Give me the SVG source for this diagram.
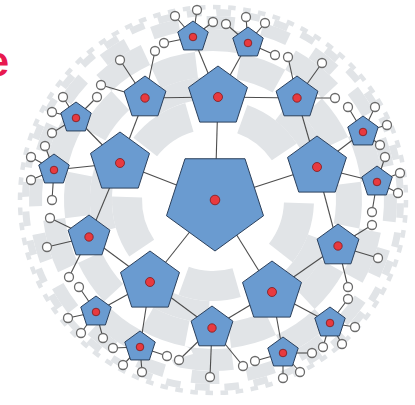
<svg xmlns="http://www.w3.org/2000/svg" xmlns:xlink="http://www.w3.org/1999/xlink" width="415" height="405" viewBox="0 0 415 405">
<style>
.pent{fill:#6a9bd0;stroke:#2b405c;stroke-width:1}
.dot{fill:#e83a3f;stroke:#7d1a1d;stroke-width:0.8}
.leaf circle{fill:#ffffff;stroke:#6b6b6b;stroke-width:1.3}
#connectors line{stroke:#4d4d4d;stroke-width:1.1}
.ring{fill:none;stroke:#e1e4e7}
.label{font-family:"Liberation Sans",Arial,sans-serif;font-weight:bold;font-size:42px;fill:#e8194f}
</style>
<defs>
<polygon id="p51" points="0,51 48.5,15.76 29.98,-41.26 -29.98,-41.26 -48.5,15.76"/>
<polygon id="p31" points="0,-31 29.48,-9.58 18.22,25.08 -18.22,25.08 -29.48,-9.58"/>
<polygon id="p22" points="0,-22 20.92,-6.8 12.93,17.8 -12.93,17.8 -20.92,-6.8"/>
<polygon id="p16" points="0,-16 15.22,-4.94 9.4,12.94 -9.4,12.94 -15.22,-4.94"/>
</defs>
<rect width="415" height="405" fill="#ffffff"/>
<text class="label" x="9" y="76" text-anchor="end">e</text>
<g id="background">
<circle cx="213" cy="200" r="196" fill="#ffffff"/>
<circle class="ring" cx="213" cy="200" r="86" stroke-width="30" pathLength="10" stroke-dasharray="1 1" transform="rotate(2 213 200)"/>
<circle class="ring" cx="213" cy="200" r="112" stroke-width="22" pathLength="10" stroke-dasharray="1 1" transform="rotate(20 213 200)"/>
<circle class="ring" cx="213" cy="200" r="136" stroke-width="26" pathLength="20" stroke-dasharray="1 1" transform="rotate(-7 213 200)"/>
<circle class="ring" cx="213" cy="200" r="160" stroke-width="22" pathLength="20" stroke-dasharray="1 1" transform="rotate(11 213 200)"/>
<circle class="ring" cx="213" cy="200" r="177.5" stroke-width="13" pathLength="40" stroke-dasharray="1 1" transform="rotate(-2 213 200)"/>
<circle class="ring" cx="213" cy="200" r="187.5" stroke-width="7" pathLength="80" stroke-dasharray="1 1" transform="rotate(1 213 200)"/>
<circle class="ring" cx="213" cy="200" r="193" stroke-width="4.5" pathLength="160" stroke-dasharray="1 1"/>
</g>
<g id="connectors">
<line x1="215" y1="200" x2="218" y2="97"/>
<line x1="215" y1="200" x2="120" y2="163"/>
<line x1="215" y1="200" x2="317" y2="167"/>
<line x1="215" y1="200" x2="150" y2="282"/>
<line x1="215" y1="200" x2="272" y2="292"/>
<line x1="218" y1="97" x2="145" y2="98"/>
<line x1="120" y1="163" x2="145" y2="98"/>
<line x1="218" y1="97" x2="297" y2="98"/>
<line x1="317" y1="167" x2="297" y2="98"/>
<line x1="120" y1="163" x2="89" y2="237"/>
<line x1="150" y1="282" x2="89" y2="237"/>
<line x1="150" y1="282" x2="212" y2="328"/>
<line x1="272" y1="292" x2="212" y2="328"/>
<line x1="317" y1="167" x2="338" y2="246"/>
<line x1="272" y1="292" x2="338" y2="246"/>
<line x1="218" y1="97" x2="193" y2="37"/>
<line x1="218" y1="97" x2="248" y2="43"/>
<line x1="120" y1="163" x2="76" y2="118"/>
<line x1="120" y1="163" x2="54" y2="170"/>
<line x1="317" y1="167" x2="363" y2="132"/>
<line x1="317" y1="167" x2="377" y2="182"/>
<line x1="150" y1="282" x2="96" y2="312"/>
<line x1="150" y1="282" x2="140" y2="347"/>
<line x1="272" y1="292" x2="283" y2="353"/>
<line x1="272" y1="292" x2="330" y2="323"/>
<line x1="193" y1="37" x2="175" y2="16"/>
<line x1="193" y1="37" x2="197" y2="10"/>
<line x1="193" y1="37" x2="164" y2="43"/>
<line x1="193" y1="37" x2="213" y2="22"/>
<line x1="248" y1="43" x2="226" y2="24"/>
<line x1="248" y1="43" x2="246" y2="17"/>
<line x1="248" y1="43" x2="265" y2="23"/>
<line x1="248" y1="43" x2="275" y2="55"/>
<line x1="145" y1="98" x2="155" y2="51"/>
<line x1="145" y1="98" x2="120" y2="60"/>
<line x1="145" y1="98" x2="101" y2="85"/>
<line x1="297" y1="98" x2="288" y2="57"/>
<line x1="297" y1="98" x2="322" y2="63"/>
<line x1="297" y1="98" x2="335" y2="98"/>
<line x1="363" y1="132" x2="348" y2="107"/>
<line x1="363" y1="132" x2="375" y2="107"/>
<line x1="363" y1="132" x2="387" y2="125"/>
<line x1="363" y1="132" x2="380" y2="145"/>
<line x1="377" y1="182" x2="385" y2="157"/>
<line x1="377" y1="182" x2="400" y2="173"/>
<line x1="377" y1="182" x2="398" y2="193"/>
<line x1="377" y1="182" x2="372" y2="212"/>
<line x1="338" y1="246" x2="372" y2="225"/>
<line x1="338" y1="246" x2="378" y2="258"/>
<line x1="338" y1="246" x2="348" y2="287"/>
<line x1="330" y1="323" x2="348" y2="299"/>
<line x1="330" y1="323" x2="355" y2="327"/>
<line x1="330" y1="323" x2="342" y2="344"/>
<line x1="330" y1="323" x2="323" y2="347"/>
<line x1="283" y1="353" x2="312" y2="353"/>
<line x1="283" y1="353" x2="300" y2="372"/>
<line x1="283" y1="353" x2="283" y2="378"/>
<line x1="283" y1="353" x2="255" y2="361"/>
<line x1="212" y1="328" x2="243" y2="366"/>
<line x1="212" y1="328" x2="210" y2="377"/>
<line x1="212" y1="328" x2="179" y2="360"/>
<line x1="140" y1="347" x2="167" y2="356"/>
<line x1="140" y1="347" x2="142" y2="372"/>
<line x1="140" y1="347" x2="123" y2="365"/>
<line x1="140" y1="347" x2="113" y2="348"/>
<line x1="96" y1="312" x2="103" y2="338"/>
<line x1="96" y1="312" x2="81" y2="333"/>
<line x1="96" y1="312" x2="68" y2="318"/>
<line x1="96" y1="312" x2="79" y2="287"/>
<line x1="89" y1="237" x2="69" y2="277"/>
<line x1="89" y1="237" x2="47" y2="247"/>
<line x1="89" y1="237" x2="50" y2="218"/>
<line x1="54" y1="170" x2="52" y2="200"/>
<line x1="54" y1="170" x2="31" y2="180"/>
<line x1="54" y1="170" x2="31" y2="157"/>
<line x1="54" y1="170" x2="45" y2="146"/>
<line x1="76" y1="118" x2="52" y2="133"/>
<line x1="76" y1="118" x2="52" y2="112"/>
<line x1="76" y1="118" x2="63" y2="97"/>
<line x1="76" y1="118" x2="97" y2="97"/>
</g>
<g id="n-center"><use xlink:href="#p51" class="pent" x="215" y="200"/><circle class="dot" cx="215" cy="200" r="4.8"/></g>
<g id="n-top"><use xlink:href="#p31" class="pent" x="218" y="97"/><circle class="dot" cx="218" cy="97" r="4.5"/></g>
<g id="n-left"><use xlink:href="#p31" class="pent" x="120" y="163"/><circle class="dot" cx="120" cy="163" r="4.5"/></g>
<g id="n-right"><use xlink:href="#p31" class="pent" x="317" y="167"/><circle class="dot" cx="317" cy="167" r="4.5"/></g>
<g id="n-lowleft"><use xlink:href="#p31" class="pent" x="150" y="282"/><circle class="dot" cx="150" cy="282" r="4.5"/></g>
<g id="n-lowright"><use xlink:href="#p31" class="pent" x="272" y="292"/><circle class="dot" cx="272" cy="292" r="4.5"/></g>
<g id="n-tl"><use xlink:href="#p22" class="pent" x="145" y="98"/><circle class="dot" cx="145" cy="98" r="4.2"/></g>
<g id="n-tr"><use xlink:href="#p22" class="pent" x="297" y="98"/><circle class="dot" cx="297" cy="98" r="4.2"/></g>
<g id="n-r2"><use xlink:href="#p22" class="pent" x="338" y="246"/><circle class="dot" cx="338" cy="246" r="4.2"/></g>
<g id="n-b2"><use xlink:href="#p22" class="pent" x="212" y="328"/><circle class="dot" cx="212" cy="328" r="4.2"/></g>
<g id="n-l2"><use xlink:href="#p22" class="pent" x="89" y="237"/><circle class="dot" cx="89" cy="237" r="4.2"/></g>
<g id="n-a"><use xlink:href="#p16" class="pent" x="193" y="37"/><circle class="dot" cx="193" cy="37" r="3.8"/></g>
<g id="n-b"><use xlink:href="#p16" class="pent" x="248" y="43"/><circle class="dot" cx="248" cy="43" r="3.8"/></g>
<g id="n-c"><use xlink:href="#p16" class="pent" x="363" y="132"/><circle class="dot" cx="363" cy="132" r="3.8"/></g>
<g id="n-d"><use xlink:href="#p16" class="pent" x="377" y="182"/><circle class="dot" cx="377" cy="182" r="3.8"/></g>
<g id="n-e"><use xlink:href="#p16" class="pent" x="330" y="323"/><circle class="dot" cx="330" cy="323" r="3.8"/></g>
<g id="n-f"><use xlink:href="#p16" class="pent" x="283" y="353"/><circle class="dot" cx="283" cy="353" r="3.8"/></g>
<g id="n-g"><use xlink:href="#p16" class="pent" x="140" y="347"/><circle class="dot" cx="140" cy="347" r="3.8"/></g>
<g id="n-h"><use xlink:href="#p16" class="pent" x="96" y="312"/><circle class="dot" cx="96" cy="312" r="3.8"/></g>
<g id="n-i"><use xlink:href="#p16" class="pent" x="54" y="170"/><circle class="dot" cx="54" cy="170" r="3.8"/></g>
<g id="n-j"><use xlink:href="#p16" class="pent" x="76" y="118"/><circle class="dot" cx="76" cy="118" r="3.8"/></g>
<g id="leaves" class="leaf">
<g id="leaf-1"><circle cx="175" cy="16" r="4.5"/></g>
<g id="leaf-2"><circle cx="197" cy="10" r="4.5"/></g>
<g id="leaf-3"><circle cx="164" cy="43" r="4.5"/></g>
<g id="leaf-4"><circle cx="213" cy="22" r="4.5"/></g>
<g id="leaf-5"><circle cx="226" cy="24" r="4.5"/></g>
<g id="leaf-6"><circle cx="246" cy="17" r="4.5"/></g>
<g id="leaf-7"><circle cx="265" cy="23" r="4.5"/></g>
<g id="leaf-8"><circle cx="275" cy="55" r="4.5"/></g>
<g id="leaf-9"><circle cx="155" cy="51" r="4.5"/></g>
<g id="leaf-10"><circle cx="120" cy="60" r="4.5"/></g>
<g id="leaf-11"><circle cx="101" cy="85" r="4.5"/></g>
<g id="leaf-12"><circle cx="288" cy="57" r="4.5"/></g>
<g id="leaf-13"><circle cx="322" cy="63" r="4.5"/></g>
<g id="leaf-14"><circle cx="335" cy="98" r="4.5"/></g>
<g id="leaf-15"><circle cx="348" cy="107" r="4.5"/></g>
<g id="leaf-16"><circle cx="375" cy="107" r="4.5"/></g>
<g id="leaf-17"><circle cx="387" cy="125" r="4.5"/></g>
<g id="leaf-18"><circle cx="380" cy="145" r="4.5"/></g>
<g id="leaf-19"><circle cx="385" cy="157" r="4.5"/></g>
<g id="leaf-20"><circle cx="400" cy="173" r="4.5"/></g>
<g id="leaf-21"><circle cx="398" cy="193" r="4.5"/></g>
<g id="leaf-22"><circle cx="372" cy="212" r="4.5"/></g>
<g id="leaf-23"><circle cx="372" cy="225" r="4.5"/></g>
<g id="leaf-24"><circle cx="378" cy="258" r="4.5"/></g>
<g id="leaf-25"><circle cx="348" cy="287" r="4.5"/></g>
<g id="leaf-26"><circle cx="348" cy="299" r="4.5"/></g>
<g id="leaf-27"><circle cx="355" cy="327" r="4.5"/></g>
<g id="leaf-28"><circle cx="342" cy="344" r="4.5"/></g>
<g id="leaf-29"><circle cx="323" cy="347" r="4.5"/></g>
<g id="leaf-30"><circle cx="312" cy="353" r="4.5"/></g>
<g id="leaf-31"><circle cx="300" cy="372" r="4.5"/></g>
<g id="leaf-32"><circle cx="283" cy="378" r="4.5"/></g>
<g id="leaf-33"><circle cx="255" cy="361" r="4.5"/></g>
<g id="leaf-34"><circle cx="243" cy="366" r="4.5"/></g>
<g id="leaf-35"><circle cx="210" cy="377" r="4.5"/></g>
<g id="leaf-36"><circle cx="179" cy="360" r="4.5"/></g>
<g id="leaf-37"><circle cx="167" cy="356" r="4.5"/></g>
<g id="leaf-38"><circle cx="142" cy="372" r="4.5"/></g>
<g id="leaf-39"><circle cx="123" cy="365" r="4.5"/></g>
<g id="leaf-40"><circle cx="113" cy="348" r="4.5"/></g>
<g id="leaf-41"><circle cx="103" cy="338" r="4.5"/></g>
<g id="leaf-42"><circle cx="81" cy="333" r="4.5"/></g>
<g id="leaf-43"><circle cx="68" cy="318" r="4.5"/></g>
<g id="leaf-44"><circle cx="79" cy="287" r="4.5"/></g>
<g id="leaf-45"><circle cx="69" cy="277" r="4.5"/></g>
<g id="leaf-46"><circle cx="47" cy="247" r="4.5"/></g>
<g id="leaf-47"><circle cx="50" cy="218" r="4.5"/></g>
<g id="leaf-48"><circle cx="52" cy="200" r="4.5"/></g>
<g id="leaf-49"><circle cx="31" cy="180" r="4.5"/></g>
<g id="leaf-50"><circle cx="31" cy="157" r="4.5"/></g>
<g id="leaf-51"><circle cx="45" cy="146" r="4.5"/></g>
<g id="leaf-52"><circle cx="52" cy="133" r="4.5"/></g>
<g id="leaf-53"><circle cx="52" cy="112" r="4.5"/></g>
<g id="leaf-54"><circle cx="63" cy="97" r="4.5"/></g>
<g id="leaf-55"><circle cx="97" cy="97" r="4.5"/></g>
</g>
</svg>
